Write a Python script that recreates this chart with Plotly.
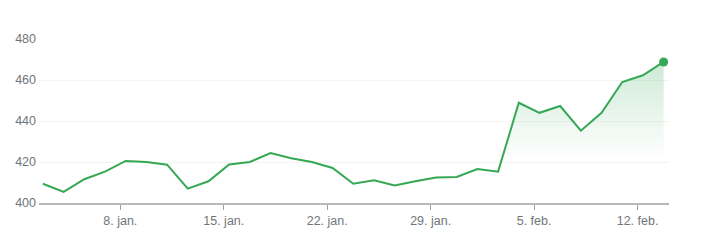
import plotly.graph_objects as go

# Trading-day closing values (one point per trading day)
values = [409.4, 405.4, 411.6, 415.3, 420.5, 420.0, 418.7, 407.0, 410.6, 418.8,
          420.0, 424.4, 421.8, 420.0, 417.1, 409.4, 411.1, 408.6, 410.6, 412.4,
          412.7, 416.6, 415.3, 448.9, 444.0, 447.3, 435.3, 444.0, 459.0, 462.3,
          468.8]
tick_labels = ["8. jan.", "15. jan.", "22. jan.", "29. jan.", "5. feb.", "12. feb."]
tick_index = [4, 9, 14, 19, 24, 29]   # trading-day index of each labelled Monday
y_ticks = [400, 420, 440, 460, 480]

x = list(range(len(values)))
tick_pos = [i - 0.26 for i in tick_index]

green = "#34a853"
grey_text = "#70757a"

fig = go.Figure()
fig.add_trace(go.Scatter(
    x=x, y=values, mode="lines",
    line=dict(color=green, width=2),
    fill="tozeroy",
    fillgradient=dict(type="vertical", start=421, stop=469,
                      colorscale=[[0, "rgba(52,168,83,0)"], [1, "rgba(52,168,83,0.24)"]]),
    hoverinfo="skip", showlegend=False,
))
fig.add_trace(go.Scatter(
    x=[x[-1]], y=[values[-1]], mode="markers",
    marker=dict(color=green, size=9),
    cliponaxis=False,
    hoverinfo="skip", showlegend=False,
))

fig.update_layout(
    width=701, height=242,
    margin=dict(l=39, r=32, t=39, b=39),
    paper_bgcolor="white", plot_bgcolor="white",
    font=dict(family="Arial, Liberation Sans, sans-serif", size=12.5, color=grey_text),
)
fig.update_xaxes(
    range=[-0.19, 30.26],
    tickvals=tick_pos, ticktext=tick_labels,
    showgrid=False, zeroline=False,
    showline=True, linecolor="#b8b8bc", linewidth=2,
    ticks="outside", ticklen=5, tickwidth=1, tickcolor="#9aa0a6",
    tickfont=dict(size=12.5, color=grey_text),
)
fig.update_yaxes(
    range=[400, 480],
    tickvals=y_ticks,
    showgrid=True, gridcolor="#f3f3f3", gridwidth=1,
    zeroline=False, showline=False, ticks="",
    ticklabelstandoff=2,
    tickfont=dict(size=12.5, color=grey_text),
)

fig.write_html("out.html")
